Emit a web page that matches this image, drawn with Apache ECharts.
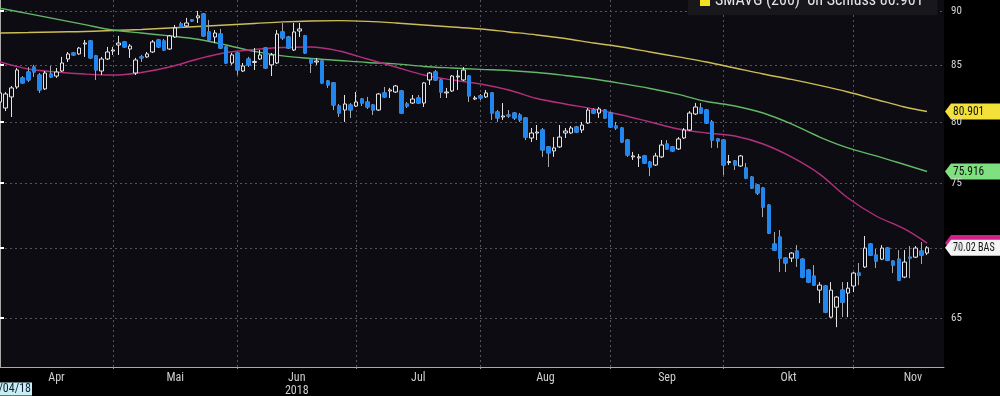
<!DOCTYPE html>
<html><head><meta charset="utf-8">
<script src="https://cdn.jsdelivr.net/npm/echarts@6/dist/echarts.min.js"></script>
<style>html,body{margin:0;padding:0;background:#000;}#c{width:1000px;height:396px;}</style>
</head><body><div id="c"></div>
<script>
// ---- trading days (last three Nov slots are empty future days) ----
const aprDays = [3,4,5,6,9,10,11,12,13,16,17,18,19,20,23,24,25,26,27,30];
const mayDays = [2,3,4,7,8,9,10,11,14,15,16,17,18,21,22,23,24,25,28,29,30,31];
const junDays = [1,4,5,6,7,8,11,12,13,14,15,18,19,20,21,22,25,26,27,28,29];
const julDays = [2,3,4,5,6,9,10,11,12,13,16,17,18,19,20,23,24,25,26,27,30,31];
const augDays = [1,2,3,6,7,8,9,10,13,14,15,16,17,20,21,22,23,24,27,28,29,30,31];
const sepDays = [3,4,5,6,7,10,11,12,13,14,17,18,19,20,21,24,25,26,27,28];
const octDays = [1,2,3,4,5,8,9,10,11,12,15,16,17,18,19,22,23,24,25,26,29,30,31];
const novDays = [1,2,5,6,7,8,9,12,13,14,15,16,19,20,21,22,23];
const monthNames = ['Apr','Mai','Jun','Jul','Aug','Sep','Okt','Nov'];
const yearText = '2018';
const yTickLabels = [65,70,75,80,85,90];

// ---- candles: [open, close, low, high] ----
const candles = [
[81.72,82.51,81.55,82.77],[81.20,82.42,80.94,82.59],[82.16,82.95,80.43,83.12],[83.03,84.54,82.86,84.72],
[83.83,83.39,83.30,84.00],[84.36,83.65,83.47,84.81],[84.81,84.36,83.92,85.00],[84.09,82.77,82.51,84.27],
[82.86,84.27,82.77,84.45],[84.18,83.92,83.83,84.90],[84.00,84.36,83.83,84.72],[84.45,85.17,84.36,85.72],
[85.53,85.99,85.26,86.17],[86.08,85.90,85.81,86.17],[85.99,86.53,85.90,86.63],[86.90,86.99,85.72,87.27],
[87.18,85.63,85.53,87.27],[85.81,84.54,83.65,85.90],[84.45,85.53,84.09,85.72],[85.53,86.17,85.44,86.63],
[86.26,86.35,85.90,86.63],[86.81,86.99,85.90,87.65],[87.09,86.63,86.53,87.18],[86.44,86.72,85.63,86.90],
[84.27,85.44,84.09,85.63],[85.72,85.63,85.26,85.90],[85.72,85.99,85.63,86.17],[86.17,87.09,86.08,87.27],
[87.27,86.63,86.53,87.37],[87.18,86.35,86.26,87.37],[86.44,87.65,86.35,87.74],[87.55,88.39,87.46,88.67],
[88.77,88.48,88.39,88.96],[88.58,88.86,88.48,89.34],[89.15,89.05,88.96,89.24],[89.34,89.53,88.86,90.00],
[89.71,87.65,87.55,89.81],[88.02,87.27,87.18,89.15],[87.55,87.92,86.99,88.20],[87.83,86.53,86.44,88.30],
[86.63,85.17,85.08,86.72],[85.17,85.90,85.00,86.08],[86.08,84.54,84.09,86.17],[84.45,84.90,84.36,85.17],
[85.53,85.00,84.81,85.72],[85.22,85.31,84.54,86.53],[85.53,85.90,85.44,86.35],[86.53,84.72,84.63,86.63],
[85.00,85.90,84.00,86.08],[85.17,87.83,85.08,88.20],[88.02,87.46,87.27,88.86],[87.55,86.53,86.44,87.65],
[86.35,88.02,86.26,88.86],[88.11,88.30,87.55,88.86],[87.65,86.08,85.99,87.74],[85.53,85.17,84.27,85.63],
[85.26,85.35,85.00,85.63],[85.35,83.39,83.30,85.44],[83.56,83.21,82.95,83.65],[83.39,81.46,81.03,83.47],
[81.37,80.77,80.43,81.55],[81.03,81.55,80.01,82.33],[81.46,81.03,80.35,81.63],[81.37,81.72,81.29,82.59],
[81.98,81.63,81.37,82.07],[81.72,81.29,81.12,82.16],[81.46,81.03,80.60,81.55],[81.03,82.42,80.94,82.51],
[82.51,82.16,82.07,83.03],[82.68,82.77,82.07,82.95],[82.59,83.12,82.51,83.21],[82.68,80.77,80.69,82.77],
[81.55,81.37,81.20,81.72],[81.63,81.98,81.55,82.33],[82.07,81.63,81.55,82.33],[81.63,83.39,81.29,83.47],
[83.65,84.27,83.21,84.36],[84.36,83.65,83.56,84.54],[83.65,82.59,82.07,83.74],[82.51,82.59,82.07,82.95],
[82.68,84.00,82.59,84.09],[83.92,84.00,82.77,84.54],[83.65,84.54,83.56,84.81],[84.00,82.25,81.72,84.09],
[81.98,82.07,81.89,82.25],[82.25,82.07,81.89,82.42],[82.16,82.51,82.07,82.77],[82.51,80.77,80.18,82.59],
[80.86,80.35,80.01,81.03],[80.43,80.52,80.18,81.63],[80.60,80.52,80.35,81.03],[80.77,80.35,80.18,80.86],
[80.60,80.18,80.01,80.77],[80.35,78.74,78.49,80.43],[78.66,79.08,78.33,79.50],[79.08,79.16,78.49,79.75],
[79.33,77.67,77.10,79.50],[77.92,77.43,76.28,78.00],[77.59,77.84,77.10,78.74],[77.92,78.74,77.84,79.75],
[79.08,79.25,78.66,79.50],[79.08,79.50,79.00,79.67],[79.58,79.16,79.08,79.67],[79.33,79.75,79.08,80.01],
[79.92,81.03,79.84,81.20],[81.03,80.77,80.69,81.20],[80.77,81.12,80.35,81.29],[81.03,80.35,80.26,81.12],
[80.77,79.58,79.50,80.86],[79.67,79.50,79.33,80.01],[79.50,78.33,78.24,79.58],[78.49,77.26,77.10,78.58],
[77.10,77.18,76.85,77.51],[77.02,77.10,76.28,77.34],[77.18,76.60,76.52,77.26],[76.68,76.28,75.55,76.77],
[76.44,77.18,76.36,77.43],[77.10,78.08,77.02,78.49],[78.16,77.75,77.67,78.49],[77.92,77.59,77.51,78.00],
[77.75,78.58,77.67,78.74],[78.66,79.33,78.58,79.50],[79.33,80.77,79.25,80.94],[80.69,81.29,80.60,81.63],
[81.20,80.77,80.69,81.63],[81.03,79.92,79.84,81.12],[80.01,78.49,77.84,80.18],[78.58,78.41,77.84,78.66],
[78.49,76.44,75.63,78.58],[76.64,76.72,76.44,77.26],[76.77,76.44,76.04,76.85],[76.36,77.18,76.28,77.26],
[76.20,75.39,75.31,76.60],[75.47,74.60,74.52,75.55],[74.84,74.21,74.05,74.92],[74.60,73.11,72.34,74.68],
[73.26,71.12,71.05,73.34],[70.30,69.85,69.78,71.20],[70.82,69.26,68.25,71.35],[69.26,68.90,68.25,69.33],
[69.26,69.63,68.97,69.70],[69.78,69.26,68.61,70.22],[69.18,67.88,67.80,69.26],[68.39,67.52,67.45,68.46],
[67.95,67.31,67.24,68.75],[66.95,67.31,66.03,67.52],[67.24,65.41,65.34,67.31],[65.06,66.95,64.99,67.52],
[65.75,66.46,64.37,66.53],[66.95,66.10,65.06,67.52],[66.74,67.09,65.06,67.52],[67.24,68.17,66.81,68.25],
[68.17,68.02,67.30,68.90],[68.61,70.00,68.54,70.90],[70.30,69.48,69.41,70.37],[69.48,69.04,68.54,69.93],
[69.18,70.00,69.11,70.22],[70.00,69.11,69.04,70.07],[69.04,68.75,68.17,69.11],[69.18,67.66,67.59,69.85],
[67.88,68.97,67.80,69.85],[69.33,69.26,67.80,70.15],[69.33,70.00,69.26,70.15],[69.78,69.48,68.83,70.45],
[69.63,70.02,69.48,70.15]
];

// ---- moving averages, sampled at these day indices ----
const maIdx = [0,5,10,15,20,25,30,35,40,45,50,55,60,65,70,75,80,85,90,95,100,105,110,115,120,125,130,135,140,145,150,155,160,164];
const sma200 = [87.92,87.97,88.02,88.06,88.15,88.25,88.39,88.53,88.67,88.81,88.96,89.05,89.08,89.01,88.86,88.67,88.48,88.30,88.02,87.74,87.41,86.99,86.63,86.17,85.72,85.26,84.72,84.18,83.70,83.17,82.59,81.94,81.29,80.901];
const sma100 = [90.26,89.74,89.22,88.70,88.20,87.92,87.65,87.34,86.81,86.22,85.81,85.58,85.40,85.22,85.09,84.86,84.72,84.60,84.50,84.32,84.05,83.74,83.34,82.90,82.38,81.76,81.38,80.77,79.84,78.74,77.84,77.18,76.48,75.916];
const sma50  = [85.26,84.63,84.36,84.18,84.09,84.32,84.81,85.53,86.12,86.40,86.58,86.63,86.26,85.53,84.81,84.09,83.65,83.30,82.77,82.02,81.55,81.12,80.60,80.01,79.42,79.08,78.83,78.16,77.10,75.71,73.81,72.42,71.43,70.37];
const lastPrice = 70.02;
const startDateText = '03/04/18';

// ---- build ----
const FONT = '"Liberation Sans Narrow", "Roboto Condensed", Roboto, "Liberation Sans", sans-serif';
const monthLists = [['04',aprDays],['05',mayDays],['06',junDays],['07',julDays],['08',augDays],['09',sepDays],['10',octDays],['11',novDays]];
const categories = [];
const monthStarts = [];
monthLists.forEach(([m, days]) => {
  monthStarts.push(categories.length);
  days.forEach(d => categories.push('2018-' + m + '-' + String(d).padStart(2,'0')));
});
const monthMids = monthStarts.map((s, k) => (s + (k + 1 < monthStarts.length ? monthStarts[k+1] : s + 21)) / 2);
const startSet = new Set(monthStarts.filter(s => s > 0));
const isMonthStart = (idx) => startSet.has(idx);
const L = Math.log;
// axis range: log scale (prices spaced as on the original chart)
const axisHiPrice = 91.05, axisLoPrice = 61.71;

const chart = echarts.init(document.getElementById('c'), null, {renderer: 'canvas'});
const maSeries = (name, vals, color) => ({
  name, type: 'line', xAxisIndex: 0, yAxisIndex: 0,
  data: maIdx.map((ix, k) => [ix, L(vals[k])]),
  showSymbol: false, smooth: 0.35, silent: true, z: 2,
  lineStyle: {color, width: 1.4}, itemStyle: {color}
});

chart.setOption({
  backgroundColor: '#000',
  animation: false,
  textStyle: {fontFamily: FONT},
  grid: {left: 0, right: 56, top: 0, bottom: 29, show: true, backgroundColor: '#0d0c13', borderWidth: 0, outerBoundsMode: 'none', containLabel: false},
  legend: {
    data: [{name: 'SMAVG (200)', itemStyle: {color: '#f2e21e'}}],
    left: 688, top: -11, padding: [4, 14, 6, 12], backgroundColor: '#17171c',
    icon: 'rect', itemWidth: 10, itemHeight: 10, itemGap: 6, selectedMode: false,
    textStyle: {color: '#e6e6e6', fontSize: 16, fontFamily: FONT},
    formatter: n => n + '  on Schluss ' + sma200[sma200.length - 1].toFixed(3)
  },
  xAxis: [{
    type: 'category', data: categories, boundaryGap: false,
    axisLine: {show: true, lineStyle: {color: '#a9a9a9', width: 1}},
    axisTick: {show: true, interval: isMonthStart, length: 4, lineStyle: {color: '#9a9a9a', type: [2, 2]}},
    axisLabel: {show: false},
    splitLine: {show: true, interval: isMonthStart, lineStyle: {color: '#55555c', width: 1, type: [2, 3]}}
  }, {
    type: 'value', min: 0, max: categories.length - 1, position: 'bottom',
    axisLine: {show: false}, axisTick: {show: false}, splitLine: {show: false},
    axisLabel: {
      customValues: monthMids, color: '#cfcfcf', fontSize: 12, margin: 4, lineHeight: 13, fontFamily: FONT,
      formatter: v => {
        let k = 0, best = 1e9;
        monthMids.forEach((m, i) => { if (Math.abs(m - v) < best) { best = Math.abs(m - v); k = i; } });
        return monthNames[k] + (monthNames[k] === 'Jun' ? '\n' + yearText : '');
      }
    }
  }],
  yAxis: {
    type: 'value', position: 'right', min: L(axisLoPrice), max: L(axisHiPrice), scale: true,
    axisLine: {show: true, lineStyle: {color: '#a9a9a9', width: 1}},
    axisTick: {show: true, customValues: yTickLabels.map(L), length: 4, lineStyle: {color: '#ffffff', width: 2}},
    axisLabel: {customValues: yTickLabels.map(L), formatter: v => String(Math.round(Math.exp(v))), color: '#d6d6d6', fontSize: 11, margin: 7, fontFamily: FONT},
    splitLine: {show: true, lineStyle: {color: '#55555c', width: 1, type: [2, 3]}}
  },
  series: [
    maSeries('SMAVG (200)', sma200, '#cdbd55'),
    maSeries('SMAVG (100)', sma100, '#62b866'),
    maSeries('SMAVG (50)', sma50, '#b32f7c'),
    {
      name: 'Kurs', type: 'candlestick', z: 3, barWidth: 4,
      data: candles.map(c => c.map(L)),
      itemStyle: {color: '#0d0c13', color0: '#2186ee', borderColor: '#e4e4e4', borderColor0: '#a8a8a8', borderColorDoji: '#e4e4e4', borderWidth: 1}
    },
    {
      name: 'KursBody', type: 'candlestick', z: 4, barWidth: 4, silent: true,
      data: candles.map(c => [L(c[0]), L(c[1]), L(Math.min(c[0], c[1])), L(Math.max(c[0], c[1]))]),
      itemStyle: {color: 'rgba(0,0,0,0)', color0: '#2186ee', borderColor: 'rgba(0,0,0,0)', borderColor0: '#2186ee', borderColorDoji: 'rgba(0,0,0,0)', borderWidth: 1}
    }
  ]
});

function badge(val, bg, fg, text, sx) {
  const y = chart.convertToPixel({yAxisIndex: 0}, L(val));
  const kids = [{type: 'polygon', shape: {points: [[945, y], [951, y - 8], [1004, y - 8], [1004, y + 8], [951, y + 8]]}, style: {fill: bg}}];
  if (text) kids.push({type: 'text', x: 953, y: y, scaleX: sx, style: {text, fill: fg, font: '13px ' + FONT, verticalAlign: 'middle'}});
  return {type: 'group', z: 50, children: kids};
}
chart.setOption({
  graphic: [
    badge(sma200[sma200.length - 1], '#f3e13a', '#111', sma200[sma200.length - 1].toFixed(3), 0.88),
    badge(sma100[sma100.length - 1], '#7fe07f', '#111', sma100[sma100.length - 1].toFixed(3), 0.88),
    badge(sma50[sma50.length - 1], '#d0208a', '#111', '', 1),
    badge(lastPrice, '#f4f4f4', '#111', lastPrice.toFixed(2) + ' BAS', 0.78),
    {type: 'text', x: 32, y: 389, z: 50, style: {text: startDateText, align: 'right', verticalAlign: 'middle', fill: '#10203a', font: '12px ' + FONT, backgroundColor: '#c8eef2', padding: [1, 1, 0, 2]}}
  ]
});
</script>
</body></html>
